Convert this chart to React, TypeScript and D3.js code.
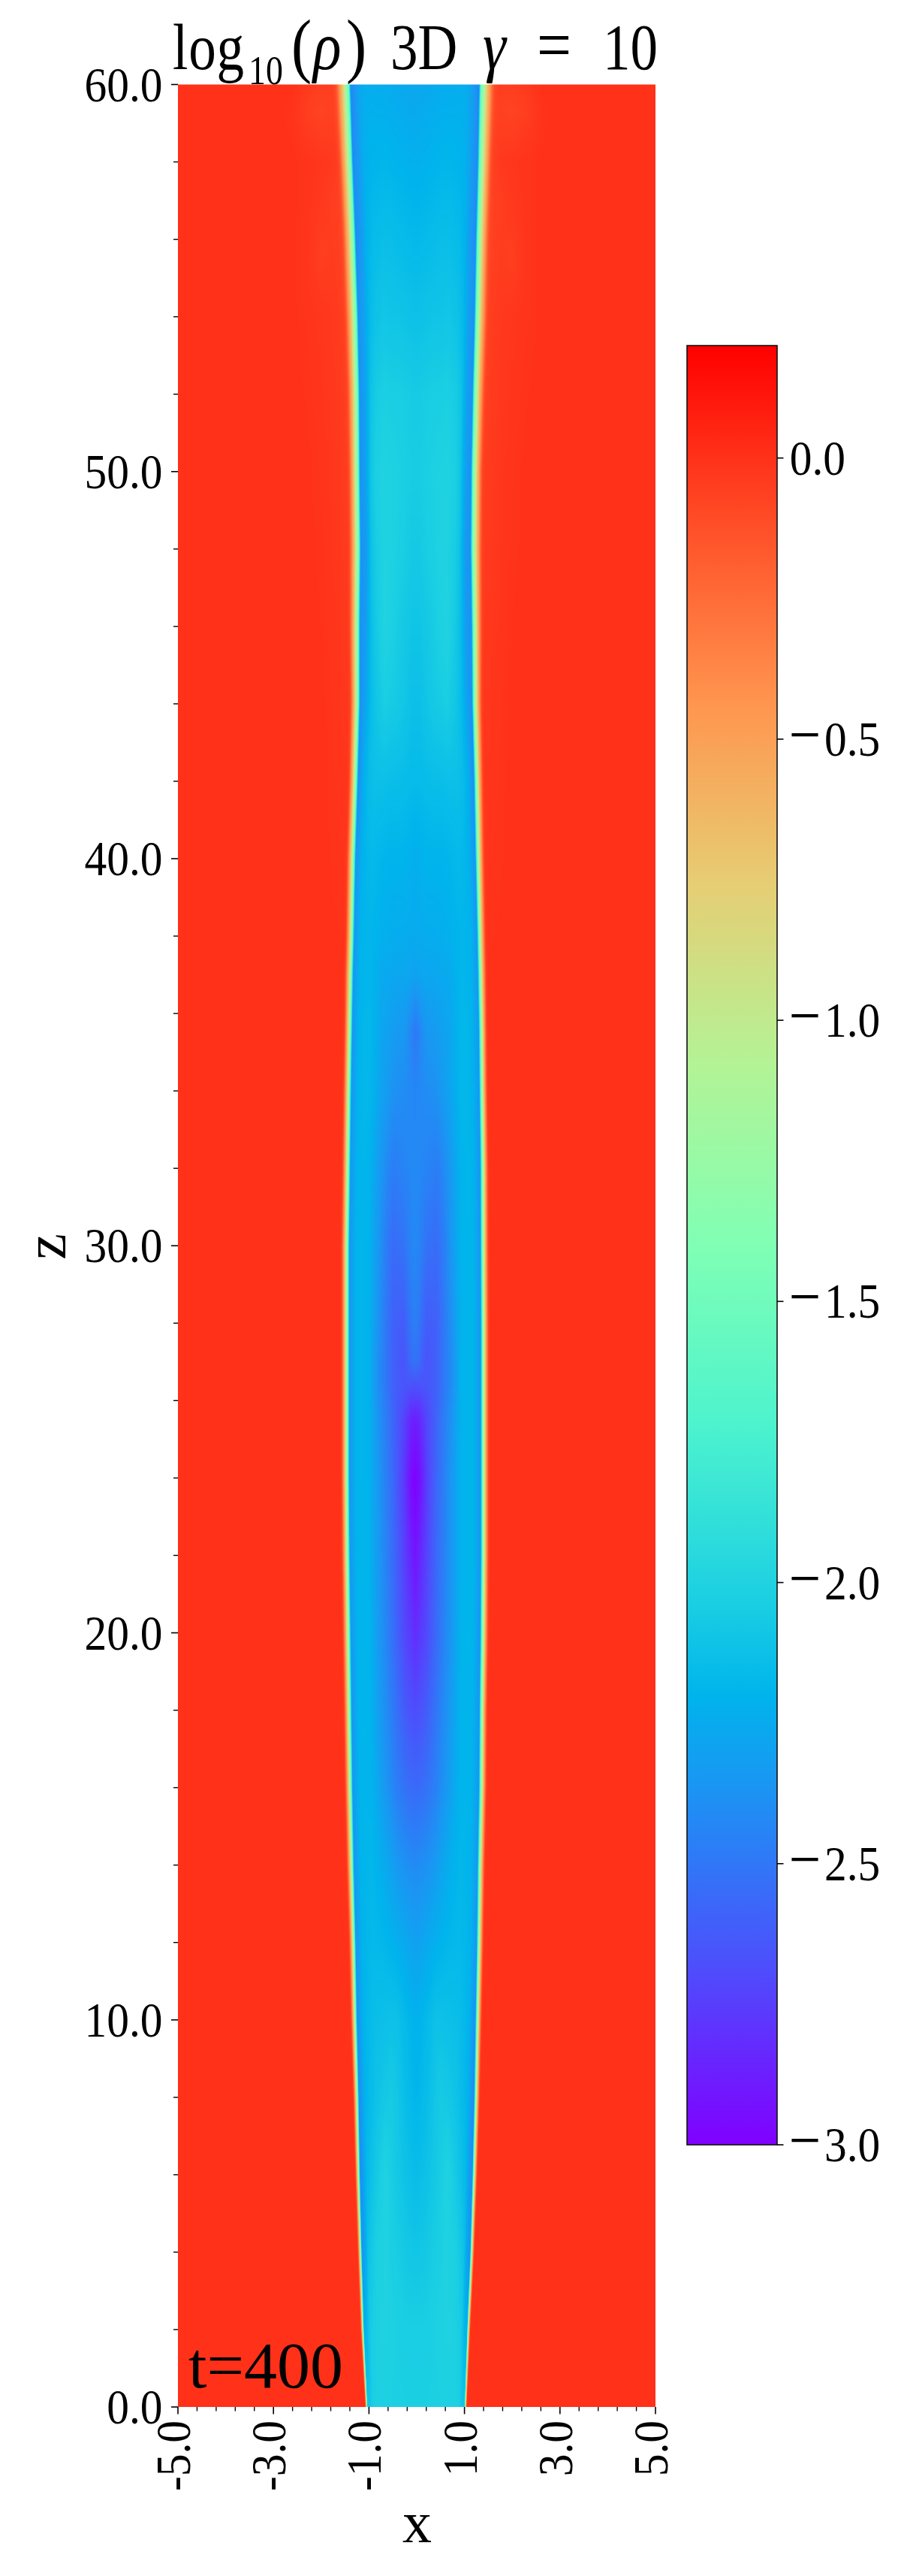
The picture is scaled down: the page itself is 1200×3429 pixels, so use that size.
import { useMemo } from 'react';
import * as d3 from 'd3';

// ─── Axis ticks and labels ──────────────────────────────────
const xMajor = [-5, -3, -1, 1, 3, 5];
const xLabels = ['-5.0', '-3.0', '-1.0', '1.0', '3.0', '5.0'];
const xMinor = [-4.6, -4.2, -3.8, -3.4, -2.6, -2.2, -1.8, -1.4, -0.6, -0.2, 0.2, 0.6, 1.4, 1.8, 2.2, 2.6, 3.4, 3.8, 4.2, 4.6];
const zMajor = [0, 10, 20, 30, 40, 50, 60];
const zLabels = ['0.0', '10.0', '20.0', '30.0', '40.0', '50.0', '60.0'];
const zMinor = [2, 4, 6, 8, 12, 14, 16, 18, 22, 24, 26, 28, 32, 34, 36, 38, 42, 44, 46, 48, 52, 54, 56, 58];
const barTicks = [0, -0.5, -1, -1.5, -2, -2.5, -3];

// ─── Colormap (rainbow) ─────────────────────────────────────
const cmapStops = [0, 0.1, 0.2, 0.25, 0.3, 0.4, 0.5, 0.6, 0.7, 0.8, 0.9, 1];
const cmapColors = ['#8000ff', '#4d4ffc', '#1a96f3', '#00b4ec', '#1acee3', '#4df3ce', '#80ffb4', '#b3f396', '#e6ce74', '#ff964f', '#ff4f28', '#ff0000'];

// ─── Jet geometry, per z row ────────────────────────────────
const zRows = [0, 2, 4, 6, 8, 10, 12, 14, 16, 18, 20, 22, 24, 25.5, 26.4, 27, 28, 30, 32, 34, 35.5, 37, 38, 40, 42, 44, 46, 48, 50, 52, 54, 56, 58, 60];
const leftWall = [-1.04, -1.12, -1.17, -1.21, -1.24, -1.28, -1.31, -1.35, -1.38, -1.4, -1.42, -1.44, -1.45, -1.45, -1.45, -1.45, -1.45, -1.45, -1.43, -1.41, -1.39, -1.37, -1.35, -1.32, -1.27, -1.23, -1.23, -1.215, -1.23, -1.24, -1.27, -1.32, -1.38, -1.43];
const rightWall = [1.01, 1.07, 1.14, 1.19, 1.23, 1.26, 1.29, 1.31, 1.34, 1.35, 1.37, 1.38, 1.38, 1.38, 1.38, 1.38, 1.38, 1.375, 1.37, 1.35, 1.34, 1.32, 1.305, 1.27, 1.24, 1.2, 1.19, 1.17, 1.18, 1.21, 1.25, 1.28, 1.32, 1.35];
const edgeWidth = [2.5, 3.5, 4.2, 5, 5.8, 6.5, 7, 7.5, 8, 8.2, 8.5, 8.5, 8.5, 8.5, 8.5, 8.5, 8.5, 8.5, 8.5, 8.5, 8.5, 9, 9, 9.5, 10, 11, 12, 13, 13, 14, 15, 15, 16, 18];

// ─── log10(rho) across the shear layer (s = offset / width) ─
const edgeS = [-0.45, -0.35, -0.17, 0, 0.2, 0.45, 0.7, 0.85, 1, 1.25];
const edgeV = [-2.6, -2.4, -1.9, -1.45, -1.1, -0.62, -0.32, -0.14, -0.03, 0];

// ─── log10(rho) inside the jet: u = 0 at the wall, 1 on the axis ─
const uCols = [0, 0.05, 0.13, 0.22, 0.31, 0.46, 0.58, 0.68, 0.83, 0.94, 1];
const jetRows = [
  [-2.05, -2.1, -2.03, -2.02, -2.02, -2.02, -2.03, -2.03, -2.03, -2.03, -2.03],
  [-2.2, -2.2, -2.06, -2.03, -2.01, -2.01, -2.02, -2.03, -2.04, -2.04, -2.04],
  [-2.35, -2.35, -2.12, -2.06, -2.02, -2.01, -2.04, -2.05, -2.08, -2.09, -2.09],
  [-2.4, -2.38, -2.18, -2.12, -2.07, -2.0, -2.05, -2.08, -2.12, -2.14, -2.15],
  [-2.4, -2.38, -2.2, -2.16, -2.12, -2.08, -2.06, -2.09, -2.15, -2.18, -2.19],
  [-2.4, -2.36, -2.2, -2.17, -2.14, -2.13, -2.12, -2.12, -2.17, -2.2, -2.21],
  [-2.38, -2.33, -2.2, -2.18, -2.17, -2.18, -2.2, -2.22, -2.26, -2.29, -2.3],
  [-2.38, -2.33, -2.2, -2.19, -2.18, -2.23, -2.28, -2.33, -2.38, -2.4, -2.41],
  [-2.38, -2.33, -2.2, -2.19, -2.2, -2.3, -2.38, -2.45, -2.52, -2.55, -2.56],
  [-2.38, -2.33, -2.2, -2.19, -2.2, -2.33, -2.42, -2.5, -2.62, -2.67, -2.69],
  [-2.38, -2.33, -2.2, -2.19, -2.2, -2.35, -2.45, -2.55, -2.7, -2.78, -2.82],
  [-2.38, -2.33, -2.2, -2.19, -2.2, -2.35, -2.46, -2.56, -2.73, -2.86, -2.92],
  [-2.38, -2.33, -2.2, -2.19, -2.2, -2.35, -2.47, -2.57, -2.76, -2.95, -3.0],
  [-2.38, -2.33, -2.2, -2.19, -2.2, -2.37, -2.48, -2.58, -2.72, -2.85, -2.88],
  [-2.38, -2.33, -2.2, -2.19, -2.2, -2.4, -2.5, -2.6, -2.65, -2.66, -2.66],
  [-2.38, -2.33, -2.2, -2.19, -2.2, -2.4, -2.5, -2.6, -2.66, -2.55, -2.52],
  [-2.38, -2.33, -2.2, -2.19, -2.2, -2.38, -2.5, -2.6, -2.62, -2.5, -2.46],
  [-2.38, -2.33, -2.2, -2.19, -2.2, -2.35, -2.48, -2.55, -2.52, -2.44, -2.42],
  [-2.38, -2.33, -2.2, -2.19, -2.2, -2.33, -2.42, -2.47, -2.44, -2.42, -2.42],
  [-2.38, -2.33, -2.2, -2.18, -2.18, -2.28, -2.33, -2.38, -2.4, -2.42, -2.43],
  [-2.38, -2.33, -2.2, -2.18, -2.18, -2.27, -2.3, -2.33, -2.35, -2.44, -2.5],
  [-2.38, -2.33, -2.2, -2.19, -2.19, -2.25, -2.26, -2.27, -2.27, -2.28, -2.3],
  [-2.38, -2.33, -2.2, -2.19, -2.19, -2.22, -2.23, -2.24, -2.24, -2.25, -2.25],
  [-2.38, -2.35, -2.22, -2.18, -2.17, -2.19, -2.2, -2.2, -2.2, -2.22, -2.23],
  [-2.4, -2.38, -2.22, -2.15, -2.13, -2.13, -2.14, -2.14, -2.15, -2.16, -2.16],
  [-2.4, -2.38, -2.28, -2.15, -2.1, -2.04, -2.06, -2.07, -2.1, -2.13, -2.13],
  [-2.4, -2.38, -2.33, -2.15, -2.07, -2.0, -2.02, -2.05, -2.08, -2.1, -2.1],
  [-2.4, -2.38, -2.33, -2.12, -2.05, -2.0, -2.01, -2.03, -2.05, -2.07, -2.07],
  [-2.4, -2.38, -2.3, -2.1, -2.03, -2.0, -2.01, -2.02, -2.04, -2.05, -2.05],
  [-2.4, -2.38, -2.3, -2.12, -2.06, -2.03, -2.04, -2.04, -2.05, -2.06, -2.06],
  [-2.42, -2.38, -2.3, -2.17, -2.12, -2.09, -2.1, -2.1, -2.11, -2.12, -2.12],
  [-2.42, -2.4, -2.33, -2.2, -2.16, -2.14, -2.14, -2.15, -2.16, -2.17, -2.17],
  [-2.42, -2.4, -2.32, -2.22, -2.2, -2.19, -2.19, -2.2, -2.21, -2.22, -2.22],
  [-2.42, -2.42, -2.3, -2.24, -2.23, -2.24, -2.24, -2.25, -2.26, -2.27, -2.27],
];

// ─── Faint light patches in the ambient gas near the top ────
const haloX = [1.5, 1.75, 2.0, 2.3, 2.6, 2.9];
const haloZ = [36, 44, 50, 54, 55.5, 57, 58, 59.3, 60];
const haloRows = [
  [0, 0, 0, 0, 0, 0],
  [-0.02, -0.01, 0, 0, 0, 0],
  [-0.04, -0.02, -0.01, 0, 0, 0],
  [-0.05, -0.03, -0.02, -0.01, 0, 0],
  [-0.07, -0.04, -0.05, -0.015, 0, 0],
  [-0.07, -0.05, -0.03, -0.01, 0, 0],
  [-0.07, -0.03, -0.02, -0.01, 0, 0],
  [-0.08, -0.06, -0.07, -0.05, -0.01, 0],
  [-0.08, -0.05, -0.05, -0.03, 0, 0],
];

const SERIF = '"Liberation Serif", serif';
const LABEL = 66;
const SQUEEZE = 0.9;

const xScale = d3.scaleLinear().domain([-5, 5]).range([237, 873]);
const zScale = d3.scaleLinear().domain([0, 60]).range([3204, 112.5]);
const barScale = d3.scaleLinear().domain([-3, 0.2]).range([2855, 460]);
const tScale = d3.scaleLinear().domain([-3, 0.2]).range([0, 1]).clamp(true);
const cmap = d3.scaleLinear<string>().domain(cmapStops).range(cmapColors);

/** Rasterises the density table as an imshow-style image. */
function renderField(): string {
  const [x0, x1] = xScale.range();
  const [yb, yt] = zScale.range();
  const w = Math.round(x1 - x0);
  const h = Math.round(yb - yt);
  const canvas = document.createElement('canvas');
  canvas.width = w;
  canvas.height = h;
  const ctx = canvas.getContext('2d')!;
  const img = ctx.createImageData(w, h);

  const lut = d3.range(2049).map((i) => d3.rgb(cmap(i / 2048)));
  const wallL = d3.scaleLinear().domain(zRows).range(leftWall);
  const wallR = d3.scaleLinear().domain(zRows).range(rightWall);
  const width = d3.scaleLinear().domain(zRows).range(edgeWidth);
  const edge = d3.scaleLinear().domain(edgeS).range(edgeV).clamp(true);
  const jetCols = uCols.map((_, c) => d3.scaleLinear().domain(zRows).range(jetRows.map((r) => r[c])));
  const haloCols = haloX.map((_, c) => d3.scaleLinear().domain(haloZ).range(haloRows.map((r) => r[c])).clamp(true));

  for (let j = 0; j < h; j++) {
    const z = zScale.invert(yt + j + 0.5);
    const L = xScale(wallL(z));
    const R = xScale(wallR(z));
    const half = (R - L) / 2;
    const wOut = width(z);
    const wIn = Math.min(wOut, 8.5);
    const jet = d3.scaleLinear().domain(uCols).range(jetCols.map((s) => s(z))).clamp(true);
    const halo = d3.scaleLinear().domain(haloX).range(haloCols.map((s) => s(z))).clamp(true);

    for (let i = 0; i < w; i++) {
      const px = x0 + i + 0.5;
      const d = Math.min(px - L, R - px);
      let v: number;
      if (d >= 0) {
        const inner = jet(d / half);
        const s = -d / wIn;
        v = s >= -0.45 ? Math.max(edge(s), inner) : inner;
      } else {
        v = edge(-d / wOut) + halo(Math.abs(xScale.invert(px)));
      }
      const c = lut[Math.round(tScale(v) * 2048)];
      const k = (j * w + i) * 4;
      img.data[k] = c.r;
      img.data[k + 1] = c.g;
      img.data[k + 2] = c.b;
      img.data[k + 3] = 255;
    }
  }
  ctx.putImageData(img, 0, 0);
  return canvas.toDataURL('image/png');
}

export default function App() {
  const field = useMemo(renderField, []);
  const [x0, x1] = xScale.range();
  const [yb, yt] = zScale.range();
  const tickColor = '#000';
  const titleX = (px: number) => (px - 230) / 0.85;

  return (
    <svg
      width={1200}
      height={3429}
      viewBox="0 0 1200 3429"
      style={{ position: 'absolute', left: 0, top: 0, display: 'block', background: '#fff' }}
      fontFamily={SERIF}
    >
      <defs>
        <linearGradient id="rainbow" x1="0" y1="1" x2="0" y2="0">
          {cmapStops.map((s, i) => (
            <stop key={s} offset={s} stopColor={cmapColors[i]} />
          ))}
        </linearGradient>
      </defs>

      <image href={field} x={x0} y={yt} width={x1 - x0} height={yb - yt} preserveAspectRatio="none" />

      {/* y axis */}
      {zMinor.map((z) => (
        <line key={z} x1={x0 - 6} x2={x0} y1={zScale(z)} y2={zScale(z)} stroke={tickColor} strokeWidth={1.4} />
      ))}
      {zMajor.map((z, i) => (
        <g key={z}>
          <line x1={x0 - 9} x2={x0} y1={zScale(z)} y2={zScale(z)} stroke={tickColor} strokeWidth={1.6} />
          <text
            transform={`translate(216.5,${zScale(z) + 22}) scale(${SQUEEZE},1)`}
            textAnchor="end"
            fontSize={LABEL}
          >
            {zLabels[i]}
          </text>
        </g>
      ))}
      <text transform="translate(87,1659.5) rotate(-90)" textAnchor="middle" fontSize={78}>
        z
      </text>

      {/* x axis */}
      {xMinor.map((x) => (
        <line key={x} x1={xScale(x)} x2={xScale(x)} y1={yb} y2={yb + 5.5} stroke={tickColor} strokeWidth={1.4} />
      ))}
      {xMajor.map((x, i) => (
        <g key={x}>
          <line x1={xScale(x)} x2={xScale(x)} y1={yb} y2={yb + 9.5} stroke={tickColor} strokeWidth={1.6} />
          <text
            transform={`translate(${xScale(x) + 16},3222) rotate(-90) scale(${SQUEEZE},1)`}
            textAnchor="end"
            fontSize={LABEL}
          >
            {xLabels[i]}
          </text>
        </g>
      ))}
      <text x={555.5} y={3384} textAnchor="middle" fontSize={78}>
        x
      </text>

      {/* time stamp */}
      <text x={251} y={3178} fontSize={87} textLength={206} lengthAdjust="spacingAndGlyphs">
        t=400
      </text>

      {/* title */}
      <text transform="translate(230,91.5) scale(0.85,1)" fontSize={86}>
        <tspan x={0} y={0} letterSpacing={1}>log</tspan>
        <tspan x={titleX(331)} y={20} fontSize={54}>10</tspan>
        <tspan x={titleX(388)} y={0} fontSize={96}>(</tspan>
        <tspan x={titleX(417)} y={0} fontStyle="italic" fontSize={92}>ρ</tspan>
        <tspan x={titleX(461)} y={0} fontSize={96}>{') '}</tspan>
        <tspan x={titleX(520)} y={0}>{'3D '}</tspan>
        <tspan x={titleX(643)} y={0} fontStyle="italic" fontSize={92}>{'γ '}</tspan>
        <tspan x={titleX(715)} y={0} fontSize={96}>{'= '}</tspan>
        <tspan x={titleX(803)} y={0}>10</tspan>
      </text>

      {/* colour bar */}
      <rect
        x={915}
        y={barScale(0.2)}
        width={120}
        height={barScale(-3) - barScale(0.2)}
        fill="url(#rainbow)"
        stroke="#111"
        strokeWidth={1.6}
      />
      {barTicks.map((v) => (
        <g key={v}>
          <line x1={1035} x2={1043.5} y1={barScale(v)} y2={barScale(v)} stroke={tickColor} strokeWidth={1.6} />
          <text transform={`translate(1051.7,${barScale(v) + 22}) scale(${SQUEEZE},1)`} fontSize={LABEL}>
            {v < 0 ? (
              <>
                <tspan x={-1} fontSize={84}>−</tspan>
                <tspan x={46.3 / SQUEEZE}>{Math.abs(v).toFixed(1)}</tspan>
              </>
            ) : (
              v.toFixed(1)
            )}
          </text>
        </g>
      ))}
    </svg>
  );
}
